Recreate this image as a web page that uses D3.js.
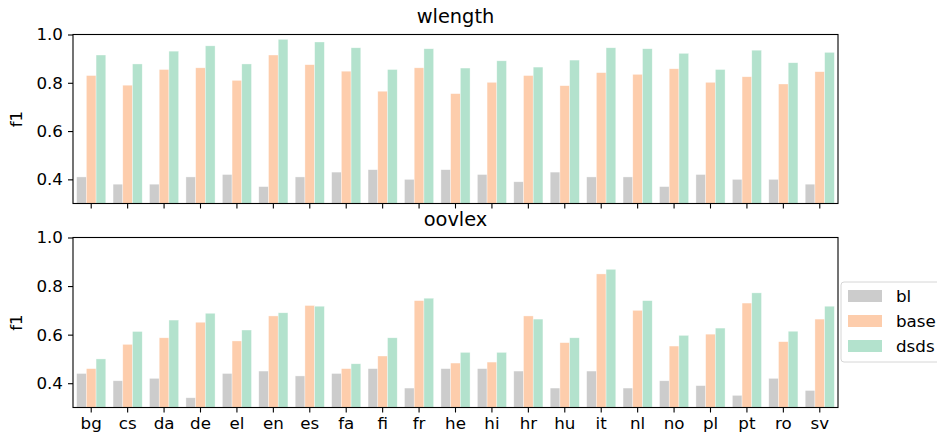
<!DOCTYPE html>
<html>
<head>
<meta charset="utf-8">
<script src="https://cdn.jsdelivr.net/npm/d3@7"></script>
<style>
  body { margin: 0; background: #fff; }
  svg, svg text { font-family: "DejaVu Sans", sans-serif; }
</style>
</head>
<body>
<svg id="chart" width="937" height="436"></svg>
<script>
const langs = ['bg', 'cs', 'da', 'de', 'el', 'en', 'es', 'fa', 'fi', 'fr', 'he',
  'hi', 'hr', 'hu', 'it', 'nl', 'no', 'pl', 'pt', 'ro', 'sv'];
const systems = ['bl', 'base', 'dsds'];
const yTicks = [0.4, 0.6, 0.8, 1.0];

// wlength panel
const wlengthBl = [0.41, 0.38, 0.38, 0.41, 0.42, 0.37, 0.41, 0.43, 0.44, 0.40, 0.44,
  0.42, 0.39, 0.43, 0.41, 0.41, 0.37, 0.42, 0.40, 0.40, 0.38];
const wlengthBase = [0.83, 0.79, 0.855, 0.862, 0.81, 0.915, 0.875, 0.848, 0.765, 0.862, 0.755,
  0.802, 0.83, 0.788, 0.842, 0.835, 0.858, 0.802, 0.825, 0.795, 0.846];
const wlengthDsds = [0.915, 0.878, 0.931, 0.953, 0.878, 0.98, 0.969, 0.945, 0.855, 0.941, 0.861,
  0.891, 0.865, 0.894, 0.945, 0.941, 0.922, 0.855, 0.935, 0.883, 0.926];

// oovlex panel
const oovlexBl = [0.44, 0.41, 0.42, 0.34, 0.44, 0.45, 0.43, 0.44, 0.46, 0.38, 0.46,
  0.46, 0.45, 0.38, 0.45, 0.38, 0.41, 0.39, 0.35, 0.42, 0.37];
const oovlexBase = [0.46, 0.56, 0.587, 0.651, 0.574, 0.677, 0.72, 0.46, 0.512, 0.74, 0.483,
  0.487, 0.677, 0.567, 0.85, 0.70, 0.553, 0.602, 0.73, 0.571, 0.664];
const oovlexDsds = [0.50, 0.613, 0.66, 0.688, 0.619, 0.69, 0.717, 0.48, 0.587, 0.75, 0.527,
  0.527, 0.664, 0.587, 0.869, 0.74, 0.597, 0.627, 0.772, 0.614, 0.717];

const colors = ['#cccccc', '#fdcdac', '#b3e2cd'];

const panels = [
  { title: 'wlength', values: [wlengthBl, wlengthBase, wlengthDsds], top: 34.5, bottom: 203.5, labels: false },
  { title: 'oovlex', values: [oovlexBl, oovlexBase, oovlexDsds], top: 237.5, bottom: 407.5, labels: true },
];

const left = 73, right = 838;
const fontFamily = '"DejaVu Sans", sans-serif';
const svg = d3.select('#chart');

const x = d3.scaleBand().domain(langs).range([left, right]).paddingInner(0).paddingOuter(0);
const hue = d3.scaleBand().domain(systems).range([x.bandwidth() * 0.1, x.bandwidth() * 0.9]);

panels.forEach((p) => {
  const y = d3.scaleLinear().domain([0.3, 1.0]).range([p.bottom, p.top]);
  const g = svg.append('g');

  // bars
  p.values.forEach((vals, si) => {
    g.selectAll('.bar-' + si)
      .data(vals)
      .enter()
      .append('rect')
      .attr('x', (d, i) => x(langs[i]) + hue(systems[si]))
      .attr('width', hue.bandwidth())
      .attr('y', (d) => y(d))
      .attr('height', (d) => y(0.3) - y(d))
      .attr('fill', colors[si])
      .attr('stroke', '#ffffff')
      .attr('stroke-opacity', 0.6)
      .attr('stroke-width', 0.6);
  });

  // axes
  const xAxis = d3.axisBottom(x).tickSize(5).tickPadding(5);
  if (!p.labels) xAxis.tickFormat('');
  const gx = g.append('g')
    .attr('transform', `translate(0, ${p.bottom})`)
    .call(xAxis)
    .attr('font-family', fontFamily)
    .attr('font-size', 16.7);
  gx.selectAll('text').attr('fill', '#000');

  const yAxis = d3.axisLeft(y).tickValues(yTicks).tickSize(5).tickPadding(5)
    .tickFormat(d3.format('.1f'));
  const gy = g.append('g')
    .attr('transform', `translate(${left}, 0)`)
    .call(yAxis)
    .attr('font-family', fontFamily)
    .attr('font-size', 16.7);
  gy.selectAll('text').attr('fill', '#000');

  [gx, gy].forEach((a) => {
    a.select('.domain').remove();
    a.selectAll('line').attr('stroke', '#000').attr('stroke-width', 1.1);
  });

  // frame
  g.append('rect')
    .attr('x', left).attr('y', p.top)
    .attr('width', right - left).attr('height', p.bottom - p.top)
    .attr('fill', 'none').attr('stroke', '#000').attr('stroke-width', 1.1);

  // title
  g.append('text')
    .attr('x', (left + right) / 2)
    .attr('y', p.top - 12)
    .attr('text-anchor', 'middle')
    .style('font-size', '19.4px')
    .text(p.title);

  // y label
  g.append('text')
    .attr('transform', `translate(22, ${(p.top + p.bottom) / 2}) rotate(-90)`)
    .attr('text-anchor', 'middle')
    .style('font-size', '16.7px')
    .text('f1');
});

// legend
const lg = svg.append('g').attr('transform', 'translate(841, 282)');
lg.append('rect')
  .attr('width', 120).attr('height', 80).attr('rx', 3)
  .attr('fill', '#fff').attr('stroke', '#d6d6d6').attr('stroke-width', 1);
systems.forEach((s, i) => {
  lg.append('rect')
    .attr('x', 7).attr('y', 8 + i * 25)
    .attr('width', 34).attr('height', 12)
    .attr('fill', colors[i]);
  lg.append('text')
    .attr('x', 55).attr('y', 20 + i * 25)
    .style('font-size', '16.7px')
    .text(s);
});
</script>
</body>
</html>
